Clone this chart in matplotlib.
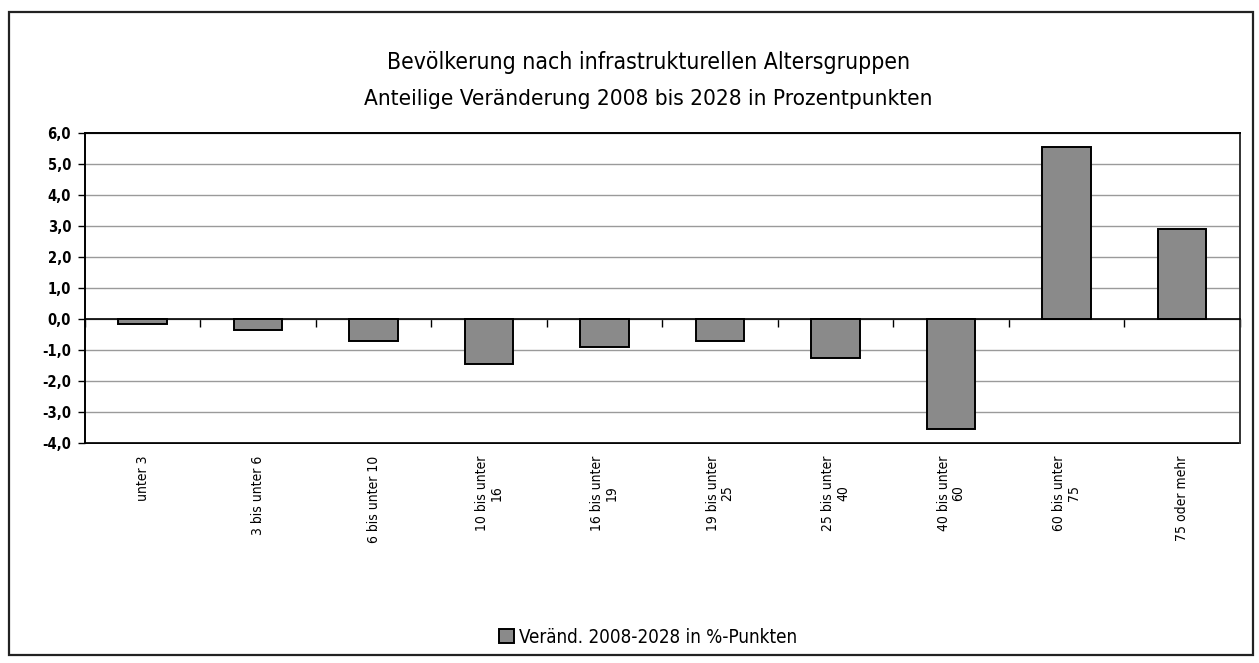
import numpy as np
import matplotlib
matplotlib.use("Agg")
import matplotlib.pyplot as plt
from matplotlib.patches import Rectangle
from matplotlib.ticker import FuncFormatter

plt.rcParams['font.family'] = ['DejaVu Sans']
plt.rcParams['font.stretch'] = 'condensed'

# data
age_groups = ["unter 3", "3 bis unter 6", "6 bis unter 10", "10 bis unter\n16",
              "16 bis unter\n19", "19 bis unter\n25", "25 bis unter\n40",
              "40 bis unter\n60", "60 bis unter\n75", "75 oder mehr"]
change_pp = [-0.15, -0.35, -0.7, -1.45, -0.9, -0.7, -1.25, -3.55, 5.55, 2.9]
series_name = "Veränd. 2008-2028 in %-Punkten"
title_lines = ["Bevölkerung nach infrastrukturellen Altersgruppen",
               "Anteilige Veränderung 2008 bis 2028 in Prozentpunkten"]
y_ticks = np.arange(-4, 7, 1)

fig = plt.figure(figsize=(12.59, 6.63), dpi=100)
fig.patch.set_facecolor("white")

# outer chart border
fig.patches.append(Rectangle((0.007, 0.012), 0.988, 0.97, transform=fig.transFigure,
                             fill=False, edgecolor="#222222", linewidth=1.6))

ax = fig.add_axes([0.0675, 0.332, 0.9174, 0.4676])
x = np.arange(len(age_groups))
bars = ax.bar(x, change_pp, width=0.42, color="#8a8a8a", edgecolor="black",
              linewidth=1.4, zorder=3, label=series_name)

ax.set_xlim(-0.5, len(age_groups) - 0.5)
ax.set_ylim(-4, 6)
ax.set_yticks(y_ticks)
ax.yaxis.set_major_formatter(FuncFormatter(lambda v, p: f"{v:.1f}".replace(".", ",")))
ax.tick_params(axis="y", direction="out", length=5, width=1, labelsize=10.5, pad=5)
for lbl in ax.get_yticklabels():
    lbl.set_fontweight("semibold")
ax.grid(axis="y", color="#9a9a9a", linewidth=1, zorder=0)

# category axis crosses at zero, ticks between the groups
ax.spines["bottom"].set_position(("data", 0))
ax.spines["bottom"].set_linewidth(1.2)
ax.set_xticks(np.arange(len(age_groups) + 1) - 0.5)
ax.tick_params(axis="x", direction="out", length=6, width=1, labelbottom=False)
for side in ["top", "left", "right"]:
    ax.spines[side].set_linewidth(1.4)
ax.spines["right"].set_color("#333333")

# labels sit at the bottom of the plot area
sec = ax.secondary_xaxis(0.0)
sec.set_xticks(x)
sec.set_xticklabels(age_groups, rotation=90, va="top", ha="center",
                    fontsize=10, linespacing=1.05, multialignment="center")
sec.tick_params(axis="x", length=0, pad=9)
sec.spines["bottom"].set_linewidth(1.4)

fig.text(0.515, 0.905, title_lines[0], ha="center", va="center", fontsize=16.5)
fig.text(0.515, 0.851, title_lines[1], ha="center", va="center", fontsize=16.2)

fig.legend(handles=[bars], labels=[series_name], loc="center",
           bbox_to_anchor=(0.515, 0.039), frameon=False, fontsize=13.5,
           handlelength=0.75, handleheight=0.75, handletextpad=0.3)

fig.savefig("out.png", dpi=100, facecolor="white")
